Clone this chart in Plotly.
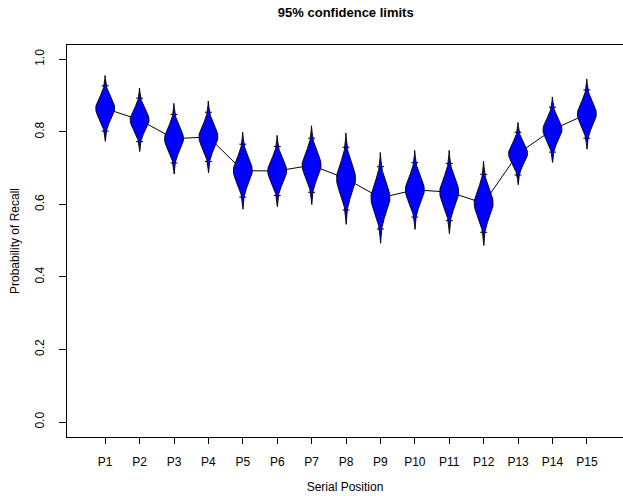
import math
import plotly.graph_objects as go

# Serial-position recall: mean probability and standard error per position
positions = ["P1", "P2", "P3", "P4", "P5", "P6", "P7", "P8",
             "P9", "P10", "P11", "P12", "P13", "P14", "P15"]
means = [0.8645, 0.833, 0.781, 0.786, 0.693, 0.692, 0.708, 0.671,
         0.618, 0.640, 0.634, 0.603, 0.740, 0.806, 0.849]
std_errs = [0.0303, 0.0291, 0.0325, 0.0330, 0.0354, 0.0328, 0.0362, 0.0420,
            0.0417, 0.0364, 0.0383, 0.0388, 0.0286, 0.0301, 0.0323]
y_ticks = [0.0, 0.2, 0.4, 0.6, 0.8, 1.0]

DF = 25            # degrees of freedom for the t distribution
CRIT = 2.06        # two-sided 95% critical value
EYE_SCALE = 0.7    # horizontal scale of the cat's-eye density
T_GRID = [i / 20 for i in range(-60, 61)]   # -3 .. 3 standard errors


def t_pdf(t, df):
    c = math.exp(math.lgamma((df + 1) / 2) - math.lgamma(df / 2)) / math.sqrt(df * math.pi)
    return c * (1 + t * t / df) ** (-(df + 1) / 2)


xs = list(range(1, len(positions) + 1))
fig = go.Figure()

# line through the means
fig.add_trace(go.Scatter(x=xs, y=means, mode="lines",
                         line=dict(color="black", width=1), hoverinfo="skip"))

# 95% confidence bars with caps
fig.add_trace(go.Scatter(
    x=xs, y=means, mode="markers",
    marker=dict(size=1, color="black"),
    error_y=dict(type="data", array=[CRIT * s for s in std_errs],
                 color="black", thickness=1, width=3.5),
    hoverinfo="skip"))

# cat's-eye density shapes
for x0, m, s in zip(xs, means, std_errs):
    half = [EYE_SCALE * t_pdf(t, DF) for t in T_GRID]
    ys = [m + t * s for t in T_GRID]
    px = [x0 + h for h in half] + [x0 - h for h in reversed(half)] + [x0 + half[0]]
    py = ys + list(reversed(ys)) + [ys[0]]
    fig.add_trace(go.Scatter(x=px, y=py, mode="lines", fill="toself",
                             fillcolor="#0000FF",
                             line=dict(color="black", width=0.9),
                             hoverinfo="skip"))

font_family = "Liberation Sans, Arial, Helvetica, sans-serif"

fig.update_layout(
    width=623, height=496,
    margin=dict(l=67, r=0, t=45, b=59),
    paper_bgcolor="white", plot_bgcolor="white",
    showlegend=False,
    font=dict(family=font_family, size=12, color="black"),
    title=dict(text="<b>95% confidence limits</b>", x=0.555, xanchor="center",
               y=0.974, yanchor="middle", font=dict(size=13)),
    xaxis=dict(
        range=[-0.11, 16.05], tickmode="array", tickvals=xs, ticktext=positions,
        ticks="outside", ticklen=6, tickcolor="black", showgrid=False,
        zeroline=False, showline=True, linecolor="black", linewidth=1, mirror=True,
        ticklabelstandoff=8,
        title=dict(text="Serial Position", standoff=14, font=dict(size=12)),
        tickfont=dict(size=12),
    ),
    yaxis=dict(
        range=[-0.0413, 1.0394], tickmode="array", tickvals=y_ticks,
        ticktext=[f"{v:.1f}" for v in y_ticks],
        ticks="outside", ticklen=7, tickcolor="black", showgrid=False,
        zeroline=False, showline=True, linecolor="black", linewidth=1, mirror=False,
        tickangle=-90, ticklabelstandoff=10,
        title=dict(text="Probability of Recall", standoff=11, font=dict(size=12)),
        tickfont=dict(size=12),
    ),
)

fig.write_html("out.html")
